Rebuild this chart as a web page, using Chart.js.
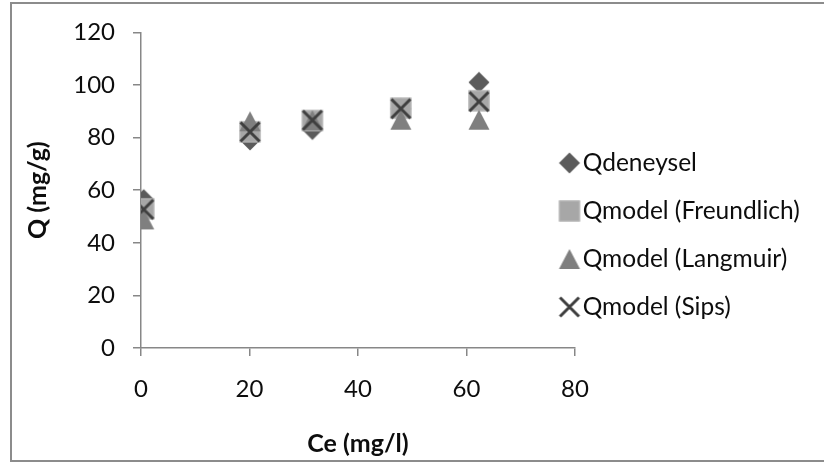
<!DOCTYPE html>
<html>
<head>
<meta charset="utf-8">
<script src="https://cdn.jsdelivr.net/npm/chart.js@4.4.1/dist/chart.umd.min.js"></script>
<style>
  html, body { margin: 0; padding: 0; background: #ffffff; }
  canvas { display: block; }
</style>
</head>
<body>
<canvas id="chart" width="824" height="463"></canvas>
<script>
// Equilibrium concentration Ce (mg/l) for each measurement
const ceValues = [0.5, 20.1, 31.6, 47.9, 62.3];

// Adsorbed amount Q (mg/g): experimental and three isotherm models
const qExperimental = [56.4, 79.1, 83.1, 91.0, 101.0];
const qFreundlich   = [52.9, 82.2, 86.5, 91.2, 94.0];
const qLangmuir     = [48.9, 86.2, 86.6, 86.8, 86.8];
const qSips         = [52.7, 82.2, 86.6, 91.0, 93.7];

const seriesNames = ['Qdeneysel', 'Qmodel (Freundlich)', 'Qmodel (Langmuir)', 'Qmodel (Sips)'];

// Axis ranges and tick steps
const xRange = [0, 80];
const xStep = 20;
const yRange = [0, 120];
const yStep = 20;

const axisTitles = { x: 'Ce (mg/l)', y: 'Q (mg/g)' };

const FONT = 'Lato';
const TEXT_COLOR = '#0d0d0d';
const AXIS_COLOR = '#878787';
const TICK_SIZE = 24;
const LEGEND_SIZE = 24.5;
const TITLE_SIZE = 25;

// Marker sprites drawn on small canvases so every shape is centred on its box
function makeMarker(kind) {
  const size = 24;
  const c = document.createElement('canvas');
  c.width = size; c.height = size;
  const g = c.getContext('2d');
  const m = size / 2;
  if (kind === 'diamond') {
    g.beginPath();
    g.moveTo(m, m - 10.5); g.lineTo(m + 10.5, m); g.lineTo(m, m + 10.5); g.lineTo(m - 10.5, m);
    g.closePath();
    g.fillStyle = '#5b5b5b'; g.fill();
  } else if (kind === 'square') {
    g.fillStyle = '#a7a7a7';
    g.fillRect(m - 10.5, m - 10.5, 21, 21);
    g.strokeStyle = '#b9b9b9'; g.lineWidth = 1;
    g.strokeRect(m - 10, m - 10, 20, 20);
  } else if (kind === 'triangle') {
    g.beginPath();
    g.moveTo(m, m - 10); g.lineTo(m + 10.5, m + 10); g.lineTo(m - 10.5, m + 10);
    g.closePath();
    g.fillStyle = '#7f7f7f'; g.fill();
  } else if (kind === 'cross') {
    g.strokeStyle = '#3f3f3f'; g.lineWidth = 3; g.lineCap = 'butt';
    g.beginPath();
    g.moveTo(m - 9.5, m - 9.5); g.lineTo(m + 9.5, m + 9.5);
    g.moveTo(m + 9.5, m - 9.5); g.lineTo(m - 9.5, m + 9.5);
    g.stroke();
  }
  return c;
}

function toPoints(ys) {
  return ceValues.map((x, i) => ({ x: x, y: ys[i] }));
}

const seriesValues = [qExperimental, qFreundlich, qLangmuir, qSips];
const markerKinds = ['diamond', 'square', 'triangle', 'cross'];

// Later series sit on top of earlier ones; the legend is reversed to keep reading order
const datasets = seriesValues.map((ys, i) => ({
  label: seriesNames[i],
  data: toPoints(ys),
  pointStyle: makeMarker(markerKinds[i]),
  pointRadius: 11,
  pointHoverRadius: 11,
  showLine: false,
  order: seriesValues.length - 1 - i
}));

// Page frame around the chart
const framePlugin = {
  id: 'frame',
  beforeDraw(chart) {
    const ctx = chart.ctx;
    ctx.save();
    ctx.fillStyle = '#ffffff';
    ctx.fillRect(0, 0, chart.width, chart.height);
    ctx.strokeStyle = '#8c8c8c';
    ctx.lineWidth = 2;
    ctx.strokeRect(11, 3, chart.width + 40, chart.height - 5);
    ctx.restore();
  }
};

// Legend sits beside the plot, slightly overlapping the axis span
const legendPlacement = {
  id: 'legendPlacement',
  afterUpdate(chart) {
    const lg = chart.legend;
    if (!lg) return;
    lg.left = chart.chartArea.right - 30;
    lg.right = chart.width;
    lg.width = lg.right - lg.left;
    lg.top = 26;
    lg.bottom = 444;
    lg.height = lg.bottom - lg.top;
    lg.adjustHitBoxes();
  }
};

new Chart(document.getElementById('chart'), {
  type: 'scatter',
  data: { datasets: datasets },
  plugins: [framePlugin, legendPlacement],
  options: {
    responsive: false,
    animation: false,
    events: [],
    layout: { padding: { left: 0, top: 26, right: 239, bottom: 0 } },
    plugins: {
      tooltip: { enabled: false },
      legend: {
        position: 'right',
        reverse: true,
        maxWidth: 10,
        labels: {
          usePointStyle: true,
          pointStyleWidth: 2,
          boxHeight: 22,
          padding: 48 - LEGEND_SIZE,
          color: TEXT_COLOR,
          font: { family: FONT, size: LEGEND_SIZE }
        }
      }
    },
    scales: {
      x: {
        type: 'linear',
        min: xRange[0],
        max: xRange[1],
        afterFit(scale) { scale.height = 115; },
        ticks: {
          stepSize: xStep,
          padding: 19,
          color: TEXT_COLOR,
          font: { family: FONT, size: TICK_SIZE }
        },
        grid: {
          drawOnChartArea: false,
          drawTicks: true,
          tickLength: 8,
          color: AXIS_COLOR,
          lineWidth: 1.5
        },
        border: { display: true, color: AXIS_COLOR, width: 1.5 },
        title: {
          display: true,
          text: axisTitles.x,
          color: TEXT_COLOR,
          font: { family: FONT, size: TITLE_SIZE, weight: 'bold' },
          padding: { top: 0, bottom: 4 }
        }
      },
      y: {
        type: 'linear',
        min: yRange[0],
        max: yRange[1],
        afterFit(scale) { scale.width = 141; },
        ticks: {
          stepSize: yStep,
          padding: 18,
          color: TEXT_COLOR,
          font: { family: FONT, size: TICK_SIZE }
        },
        grid: {
          drawOnChartArea: false,
          drawTicks: true,
          tickLength: 8,
          color: AXIS_COLOR,
          lineWidth: 1.5
        },
        border: { display: true, color: AXIS_COLOR, width: 1.5 },
        title: {
          display: true,
          text: axisTitles.y,
          color: TEXT_COLOR,
          font: { family: FONT, size: TITLE_SIZE, weight: 'bold' },
          padding: { top: 23, bottom: 0 }
        }
      }
    }
  }
});
</script>
</body>
</html>
